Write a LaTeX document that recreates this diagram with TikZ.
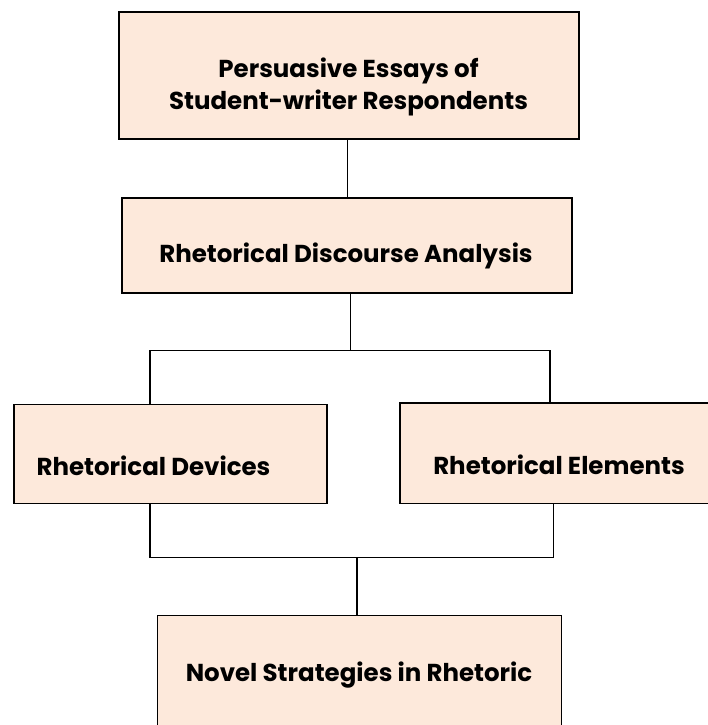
\documentclass[tikz,border=0pt]{standalone}
\usepackage{fontspec}
\setmainfont{Poppins}
\begin{document}
\begin{tikzpicture}[x=1pt,y=-1pt,
  boxstyle/.style={draw=black,line width=1.9pt,fill=boxfill,inner sep=0pt,anchor=north west},
  lbl/.style={font=\bfseries\fontsize{24.5}{32}\selectfont,text=black,inner sep=0pt,align=center},
  conn/.style={draw=black,line width=1.5pt}]
\definecolor{boxfill}{HTML}{FDE9DB}
\useasboundingbox (0,0) rectangle (707,725);
\node[boxstyle,minimum width=460pt,minimum height=127pt] (b1) at (118,11) {};
\node[boxstyle,minimum width=450pt,minimum height=95pt] (b2) at (121,197) {};
\node[boxstyle,minimum width=313pt,minimum height=99pt] (b3) at (13,403.5) {};
\node[boxstyle,minimum width=320pt,minimum height=100.5pt] (b4) at (399,402) {};
\node[boxstyle,minimum width=404pt,minimum height=130pt] (b5) at (156.5,614.5) {};
\node[lbl] (t1) at (348.5,87) {Persuasive Essays of\\Student-writer Respondents};
\node[lbl] (t2) at (346,256) {Rhetorical Discourse Analysis};
\node[lbl] (t3) at (153.5,465.5) {Rhetorical Devices};
\node[lbl] (t4) at (559,464.5) {Rhetorical Elements};
\node[lbl] (t5) at (359,675) {Novel Strategies in Rhetoric};
\coordinate (j1) at (350.3,350.3);
\coordinate (j2) at (357,557.7);
\draw[conn] (b1.south -| 347.6,0) -- (b2.north -| 347.6,0);
\draw[conn] (b2.south -| j1) -- (j1);
\draw[conn] (b3.north -| 150,0) |- (j1) -| (b4.north -| 550,0);
\draw[conn] (b3.south -| 150,0) |- (j2) -| (b4.south -| 553.6,0);
\draw[conn] (j2) -- (b5.north -| j2);
\end{tikzpicture}
\end{document}
